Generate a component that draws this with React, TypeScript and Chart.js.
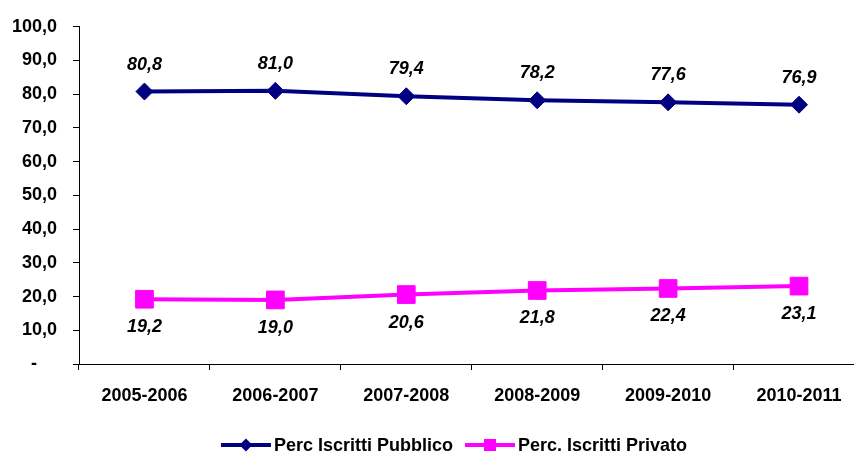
import React, { useEffect, useRef } from "react";
import { Chart, registerables } from "chart.js";

Chart.register(...registerables);

const categories = ["2005-2006", "2006-2007", "2007-2008", "2008-2009", "2009-2010", "2010-2011"];
const pubblico = [80.8, 81.0, 79.4, 78.2, 77.6, 76.9];
const privato = [19.2, 19.0, 20.6, 21.8, 22.4, 23.1];
const seriesLabels = ["Perc Iscritti Pubblico", "Perc. Iscritti Privato"];
const yTicks = [0, 10, 20, 30, 40, 50, 60, 70, 80, 90, 100];

const FONT = '"Liberation Sans", Arial, sans-serif';
const BLUE = "#000080";
const PINK = "#FF00FF";

const fmt = (v: number) => v.toFixed(1).replace(".", ",");

const dataLabelPlugin = {
  id: "dataLabels",
  afterDatasetsDraw(chart: any) {
    const ctx = chart.ctx;
    ctx.save();
    ctx.font = `italic bold 18px ${FONT}`;
    ctx.fillStyle = "#000";
    ctx.textAlign = "center";
    ctx.textBaseline = "middle";
    chart.data.datasets.forEach((ds: any, i: number) => {
      const meta = chart.getDatasetMeta(i);
      meta.data.forEach((pt: any, j: number) => {
        const off = i === 0 ? -27 : 28;
        ctx.fillText(fmt(ds.data[j]), pt.x, pt.y + off);
      });
    });
    ctx.restore();
  },
};

const legendPlugin = {
  id: "customLegend",
  afterDraw(chart: any) {
    const ctx = chart.ctx;
    ctx.save();
    ctx.font = `bold 18px ${FONT}`;
    const lineW = 50;
    const gap = 3;
    const itemGap = 12;
    const items = chart.data.datasets.map((ds: any) => ({
      label: ds.label,
      color: ds.borderColor,
      style: ds.pointStyle,
      w: ctx.measureText(ds.label).width,
    }));
    const total = items.reduce((s: number, it: any) => s + lineW + gap + it.w, 0) + itemGap * (items.length - 1);
    let x = 454 - total / 2;
    const y = 445;
    items.forEach((it: any) => {
      ctx.strokeStyle = it.color;
      ctx.lineWidth = 4;
      ctx.beginPath();
      ctx.moveTo(x, y);
      ctx.lineTo(x + lineW, y);
      ctx.stroke();
      const cx = x + lineW / 2;
      ctx.fillStyle = it.color;
      ctx.beginPath();
      if (it.style === "rectRot") {
        ctx.moveTo(cx - 6.5, y);
        ctx.lineTo(cx, y - 6.5);
        ctx.lineTo(cx + 6.5, y);
        ctx.lineTo(cx, y + 6.5);
        ctx.closePath();
      } else {
        ctx.rect(cx - 6, y - 6, 12, 12);
      }
      ctx.fill();
      ctx.fillStyle = "#000";
      ctx.textAlign = "left";
      ctx.textBaseline = "middle";
      ctx.fillText(it.label, x + lineW + gap, y + 1);
      x += lineW + gap + it.w + itemGap;
    });
    ctx.restore();
  },
};

export default function App() {
  const ref = useRef<HTMLCanvasElement>(null);
  useEffect(() => {
    if (!ref.current) return;
    const chart = new Chart(ref.current, {
      type: "line",
      data: {
        labels: categories,
        datasets: [
          {
            label: seriesLabels[0],
            data: pubblico,
            borderColor: BLUE,
            backgroundColor: BLUE,
            borderWidth: 4,
            pointStyle: "rectRot",
            pointRadius: 8.5,
            pointBorderWidth: 1,
            pointBackgroundColor: BLUE,
            pointBorderColor: BLUE,
            tension: 0,
          },
          {
            label: seriesLabels[1],
            data: privato,
            borderColor: PINK,
            backgroundColor: PINK,
            borderWidth: 4,
            pointStyle: "rect",
            pointRadius: 12.5,
            pointBorderWidth: 1,
            pointBackgroundColor: PINK,
            pointBorderColor: PINK,
            tension: 0,
          },
        ],
      },
      options: {
        responsive: false,
        animation: false,
        layout: { padding: { top: 24, left: 0, right: 1, bottom: 0 } },
        plugins: {
          legend: { display: false },
          tooltip: { enabled: false },
        },
        scales: {
          x: {
            offset: true,
            grid: {
              offset: true,
              drawOnChartArea: false,
              drawTicks: true,
              tickLength: 6,
              color: "#000",
            },
            border: { display: true, color: "#000", width: 1 },
            ticks: {
              color: "#000",
              padding: 15,
              maxRotation: 0,
              font: { family: FONT, size: 18, weight: "bold" },
            },
            afterFit: (s: any) => {
              s.height = 90;
            },
          },
          y: {
            min: 0,
            max: 100,
            afterBuildTicks: (s: any) => {
              s.ticks = yTicks.map((v) => ({ value: v }));
            },
            grid: {
              drawOnChartArea: false,
              drawTicks: true,
              tickLength: 6,
              color: "#000",
            },
            border: { display: true, color: "#000", width: 1 },
            ticks: {
              color: "#000",
              padding: 16,
              font: { family: FONT, size: 18, weight: "bold" },
              callback: (v: any) => (Number(v) === 0 ? "-    " : fmt(Number(v))),
            },
            afterFit: (s: any) => {
              s.width = 79;
            },
          },
        },
      },
      plugins: [dataLabelPlugin, legendPlugin],
    } as any);
    return () => chart.destroy();
  }, []);
  return (
    <div style={{ position: "absolute", left: 0, top: 0, width: 854, height: 454, overflow: "hidden", background: "#fff" }}>
      <canvas ref={ref} width={878} height={454} style={{ display: "block" }} />
    </div>
  );
}
